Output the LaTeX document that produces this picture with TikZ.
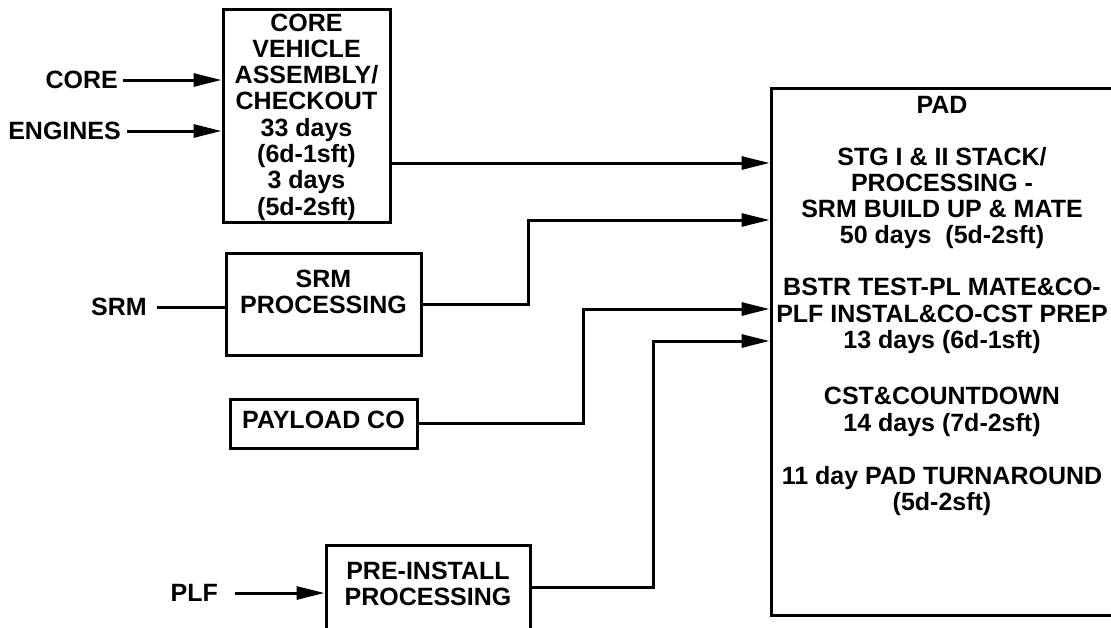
\documentclass[tikz,border=0pt]{standalone}
\usepackage{fontspec}
\setmainfont{Liberation Sans}
\usetikzlibrary{arrows.meta}
\begin{document}
\begin{tikzpicture}[x=1pt,y=-1pt,
  every node/.style={font=\fontsize{25}{26.3}\selectfont\bfseries, align=center, inner sep=0pt},
  box/.style={draw, line width=3pt, rectangle},
  ln/.style={line width=3pt},
  arr/.style={ln, -{Triangle[length=28pt,width=13pt]}}]
\useasboundingbox (0,0) rectangle (1111,627);
% boxes
\node[box, minimum width=167, minimum height=213] (core) at (306.5,115.5) {};
\node (coretxt) at (306.5,117)
  {CORE\\VEHICLE\\ASSEMBLY/\\CHECKOUT\\33 days\\(6d-1sft)\\3 days\\(5d-2sft)};
\node[box, minimum width=195, minimum height=102] (srm) at (323.5,304) {};
\node (srmtxt) at (323.5,292) {SRM\\PROCESSING};
\node[box, minimum width=187, minimum height=49] (pay) at (323.5,423.5) {};
\node (paytxt) at (323.5,420) {PAYLOAD CO};
\node[box, minimum width=204, minimum height=110] (pre) at (428,600) {};
\node (pretxt) at (428,584) {PRE-INSTALL\\PROCESSING};
\node[box, minimum width=380, minimum height=527] (pad) at (961,351.5) {};
\node (pad0) at (942,105) {PAD};
\node (pad1) at (942,198) {STG I \& II STACK/\\PROCESSING -\\SRM BUILD UP \& MATE\\50 days~~(5d-2sft)};
\node (pad2) at (942,316) {BSTR TEST-PL MATE\&CO-\\PLF INSTAL\&CO-CST PREP\\13 days (6d-1sft)};
\node (pad3) at (942,412) {CST\&COUNTDOWN\\14 days (7d-2sft)};
\node (pad4) at (942,491) {11 day PAD TURNAROUND\\(5d-2sft)};
% input labels
\node[anchor=east] (lcore) at (118,80) {CORE};
\node[anchor=east] (leng) at (121,131) {ENGINES};
\node[anchor=east] (lsrm) at (147,307) {SRM};
\node[anchor=east] (lplf) at (218,593) {PLF};
% connectors
\draw[arr] ([xshift=5]lcore.east) -- (lcore.east -| core.west);
\draw[arr] ([xshift=6]leng.east) -- (leng.east -| core.west);
\draw[ln] ([xshift=10]lsrm.east) -- (lsrm.east -| srm.west);
\draw[arr] ([xshift=17]lplf.east) -- (lplf.east -| pre.west);
\coordinate (c1) at (0,163);
\coordinate (c2) at (528,220);
\coordinate (c3) at (583,309);
\coordinate (c4) at (653,341);
\coordinate (c5) at (0,587);
\draw[arr] (c1 -| core.east) -- (c1 -| pad.west);
\draw[arr] (srm.east) -| (c2) -- (c2 -| pad.west);
\draw[arr] (pay.east) -| (c3) -- (c3 -| pad.west);
\draw[arr] (c5 -| pre.east) -| (c4) -- (c4 -| pad.west);
\end{tikzpicture}
\end{document}
